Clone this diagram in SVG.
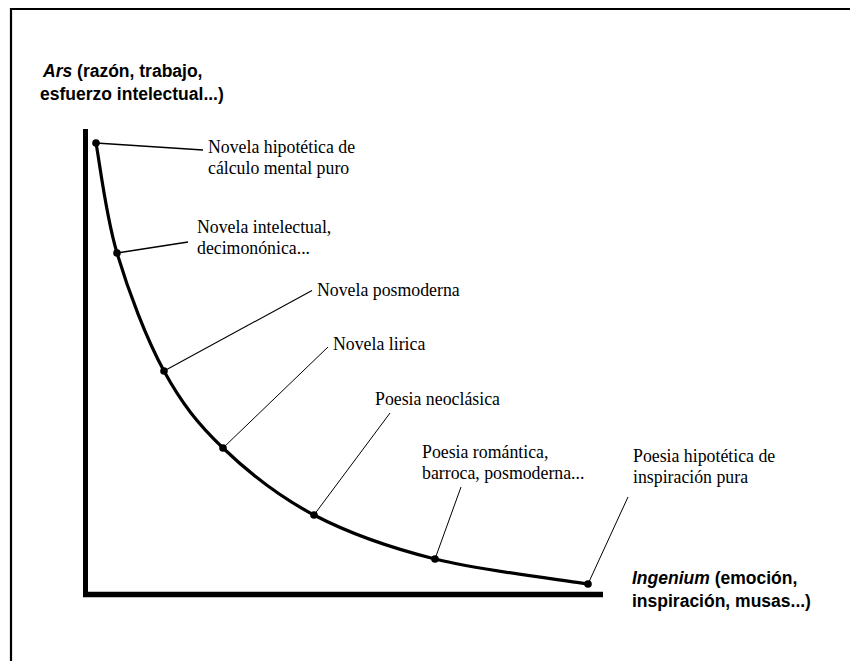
<svg xmlns="http://www.w3.org/2000/svg" width="850" height="661" viewBox="0 0 850 661">
<style>
.lbl{font-family:"Liberation Serif","Times New Roman",serif;font-size:17.8px;fill:#000}
.ax{font-family:"Liberation Sans",Arial,sans-serif;font-size:17.5px;font-weight:bold;fill:#000}
.lead{stroke:#000;fill:none}
.dot{fill:#000}
</style>
<rect width="850" height="661" fill="#fff"/>
<g id="frame">
<path d="M11,661 V9 H850" fill="none" stroke="#000" stroke-width="2.2"/>
</g>
<g id="axes">
<line x1="85.5" y1="129" x2="85.5" y2="597" stroke="#000" stroke-width="5"/>
<line x1="83" y1="594.5" x2="603" y2="594.5" stroke="#000" stroke-width="5.5"/>
<text class="ax" x="43" y="77"><tspan font-style="italic">Ars</tspan> (razón, trabajo,</text>
<text class="ax" x="40" y="99.5">esfuerzo intelectual...)</text>
<text class="ax" x="632" y="584"><tspan font-style="italic">Ingenium</tspan> (emoción,</text>
<text class="ax" x="632" y="607">inspiración, musas...)</text>
</g>
<g id="curve">
<path d="M96,143 C99.5,161.3 105.7,215 117,253 C128.3,291 146.3,338.5 164,371 C181.7,403.5 198,424 223,448 C248,472 278.7,496.5 314,515 C349.3,533.5 389.3,547.5 435,559 C480.7,570.5 562.5,579.8 588,584" fill="none" stroke="#000" stroke-width="3.2"/>
</g>
<g id="connectors">
<line class="lead" x1="96" y1="143" x2="203" y2="150" stroke-width="1.6"/>
<line class="lead" x1="117" y1="253" x2="188" y2="242" stroke-width="1.5"/>
<line class="lead" x1="164" y1="371" x2="312" y2="290.5" stroke-width="1.1"/>
<line class="lead" x1="223" y1="448" x2="328" y2="347" stroke-width="1"/>
<line class="lead" x1="314" y1="515" x2="390" y2="413" stroke-width="1"/>
<line class="lead" x1="435" y1="559" x2="461" y2="487" stroke-width="1"/>
<line class="lead" x1="588" y1="584" x2="628" y2="497" stroke-width="1"/>
</g>
<g id="n1"><circle class="dot" cx="96" cy="143" r="3.8"/><text class="lbl" x="208" y="153">Novela hipotética de</text><text class="lbl" x="208" y="174">cálculo mental puro</text></g>
<g id="n2"><circle class="dot" cx="117" cy="253" r="3.8"/><text class="lbl" x="197" y="233">Novela intelectual,</text><text class="lbl" x="197" y="254">decimonónica...</text></g>
<g id="n3"><circle class="dot" cx="164" cy="371" r="3.8"/><text class="lbl" x="317" y="296">Novela posmoderna</text></g>
<g id="n4"><circle class="dot" cx="223" cy="448" r="3.8"/><text class="lbl" x="333" y="350">Novela lirica</text></g>
<g id="n5"><circle class="dot" cx="314" cy="515" r="3.8"/><text class="lbl" x="375" y="405">Poesia neoclásica</text></g>
<g id="n6"><circle class="dot" cx="435" cy="559" r="3.8"/><text class="lbl" x="422" y="458">Poesia romántica,</text><text class="lbl" x="422" y="479">barroca, posmoderna...</text></g>
<g id="n7"><circle class="dot" cx="588" cy="584" r="3.8"/><text class="lbl" x="633" y="462">Poesia hipotética de</text><text class="lbl" x="633" y="483">inspiración pura</text></g>
</svg>
